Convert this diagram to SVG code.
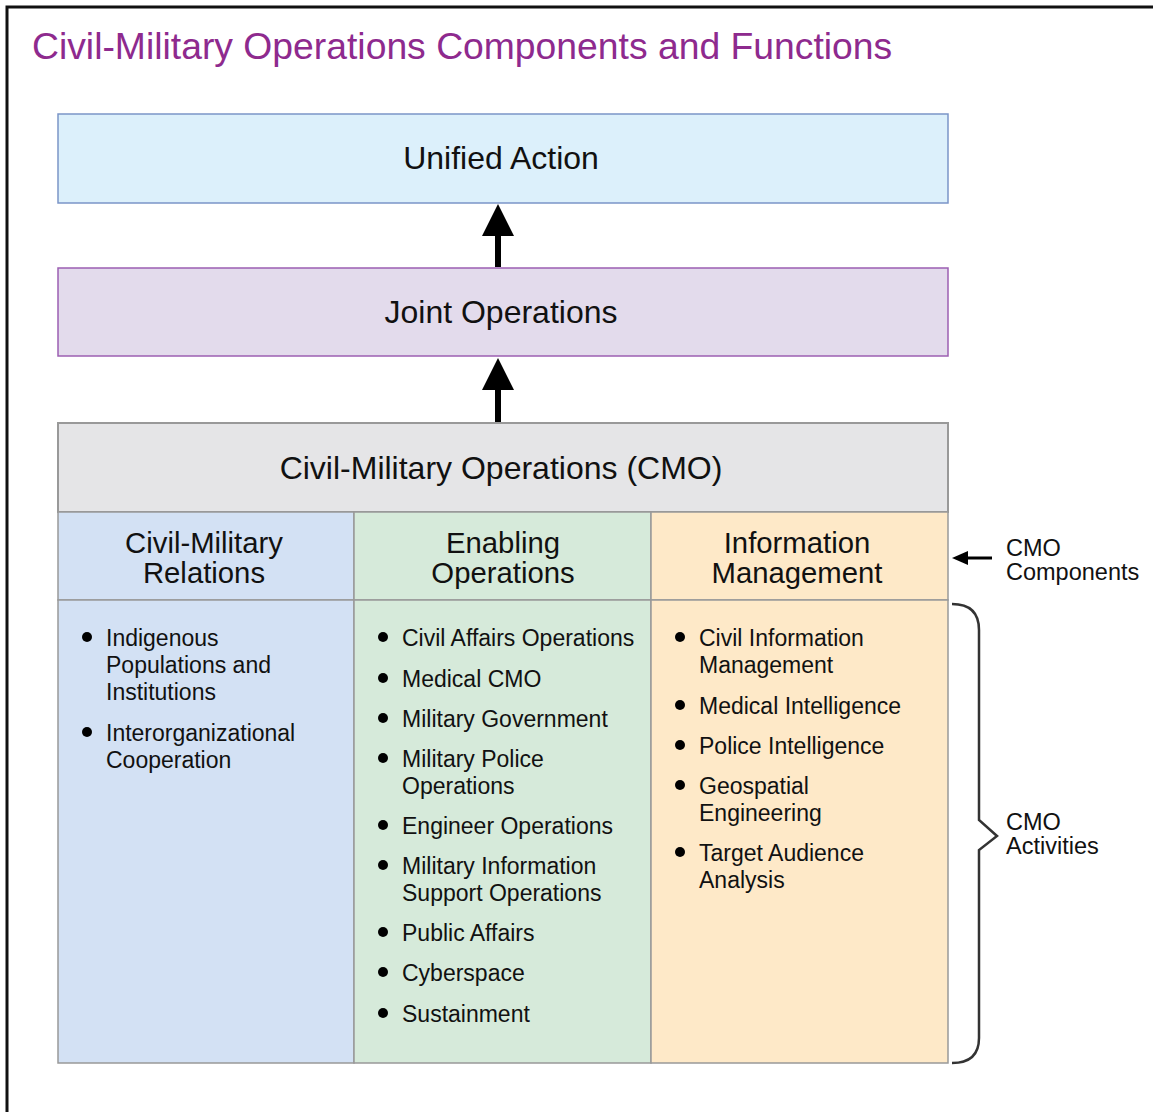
<svg xmlns="http://www.w3.org/2000/svg" width="1153" height="1112" viewBox="0 0 1153 1112">
<style>
text{font-family:"Liberation Sans",Arial,sans-serif;fill:#111}
.title{font-size:37.3px;fill:#8e2a8e}
.big{font-size:32px;text-anchor:middle}
.hdr{font-size:29.3px;text-anchor:middle}
.item{font-size:23px}
.lbl{font-size:23.5px}
.cell{stroke:#999;stroke-width:1.5}
</style>
<rect x="0" y="0" width="1153" height="1112" fill="#fff"/>
<path d="M7,1112 V7 H1153" fill="none" stroke="#111" stroke-width="3"/>
<text class="title" x="32" y="59">Civil-Military Operations Components and Functions</text>

<g id="unified-action">
<rect x="58" y="114" width="890" height="89" fill="#dcf0fb" stroke="#7b95c8" stroke-width="1.5"/>
<text class="big" x="501" y="169">Unified Action</text>
</g>
<g id="joint-operations">
<rect x="58" y="268" width="890" height="88" fill="#e3dbec" stroke="#9c5fb2" stroke-width="1.5"/>
<text class="big" x="501" y="323">Joint Operations</text>
</g>
<g id="cmo">
<rect x="58" y="423" width="890" height="89" fill="#e5e5e7" stroke="#999" stroke-width="2"/>
<text class="big" x="501" y="479">Civil-Military Operations (CMO)</text>
</g>

<g id="civil-military-relations">
<rect class="cell" x="58" y="512" width="296" height="88" fill="#d3e1f4"/>
<rect class="cell" x="58" y="600" width="296" height="463" fill="#d3e1f4"/>
<text class="hdr" x="204" y="553">Civil-Military</text>
<text class="hdr" x="204" y="583">Relations</text>
<circle cx="87" cy="637" r="5" fill="#000"/>
<text class="item" x="106" y="646">Indigenous</text>
<text class="item" x="106" y="673">Populations and</text>
<text class="item" x="106" y="700">Institutions</text>
<circle cx="87" cy="732" r="5" fill="#000"/>
<text class="item" x="106" y="741">Interorganizational</text>
<text class="item" x="106" y="768">Cooperation</text>
</g>

<g id="enabling-operations">
<rect class="cell" x="354" y="512" width="297" height="88" fill="#d6eada"/>
<rect class="cell" x="354" y="600" width="297" height="463" fill="#d6eada"/>
<text class="hdr" x="503" y="553">Enabling</text>
<text class="hdr" x="503" y="583">Operations</text>
<g fill="#000">
<circle cx="383" cy="637" r="5"/>
<circle cx="383" cy="678" r="5"/>
<circle cx="383" cy="718" r="5"/>
<circle cx="383" cy="758" r="5"/>
<circle cx="383" cy="825" r="5"/>
<circle cx="383" cy="865" r="5"/>
<circle cx="383" cy="932" r="5"/>
<circle cx="383" cy="972" r="5"/>
<circle cx="383" cy="1013" r="5"/>
</g>
<text class="item" x="402" y="646">Civil Affairs Operations</text>
<text class="item" x="402" y="687">Medical CMO</text>
<text class="item" x="402" y="727">Military Government</text>
<text class="item" x="402" y="767">Military Police</text>
<text class="item" x="402" y="794">Operations</text>
<text class="item" x="402" y="834">Engineer Operations</text>
<text class="item" x="402" y="874">Military Information</text>
<text class="item" x="402" y="901">Support Operations</text>
<text class="item" x="402" y="941">Public Affairs</text>
<text class="item" x="402" y="981">Cyberspace</text>
<text class="item" x="402" y="1022">Sustainment</text>
</g>

<g id="information-management">
<rect class="cell" x="651" y="512" width="297" height="88" fill="#fee9c8"/>
<rect class="cell" x="651" y="600" width="297" height="463" fill="#fee9c8"/>
<text class="hdr" x="797" y="553">Information</text>
<text class="hdr" x="797" y="583">Management</text>
<g fill="#000">
<circle cx="680" cy="637" r="5"/>
<circle cx="680" cy="705" r="5"/>
<circle cx="680" cy="745" r="5"/>
<circle cx="680" cy="785" r="5"/>
<circle cx="680" cy="852" r="5"/>
</g>
<text class="item" x="699" y="646">Civil Information</text>
<text class="item" x="699" y="673">Management</text>
<text class="item" x="699" y="714">Medical Intelligence</text>
<text class="item" x="699" y="754">Police Intelligence</text>
<text class="item" x="699" y="794">Geospatial</text>
<text class="item" x="699" y="821">Engineering</text>
<text class="item" x="699" y="861">Target Audience</text>
<text class="item" x="699" y="888">Analysis</text>
</g>

<g id="cmo-components-label">
<text class="lbl" x="1006" y="556">CMO</text>
<text class="lbl" x="1006" y="580">Components</text>
</g>
<g id="cmo-activities-label">
<text class="lbl" x="1006" y="830">CMO</text>
<text class="lbl" x="1006" y="854">Activities</text>
</g>

<g id="connectors">
<path d="M498,267 V235" stroke="#000" stroke-width="6" fill="none"/>
<path d="M482,236 L498,204 L514,236 z" fill="#000"/>
<path d="M498,422 V389" stroke="#000" stroke-width="6" fill="none"/>
<path d="M482,390 L498,358 L514,390 z" fill="#000"/>
<path d="M992,558 H966" stroke="#000" stroke-width="3" fill="none"/>
<path d="M952,558 L968,551 L968,565 z" fill="#000"/>
<path d="M952,604 Q979,604 979,630 V820 L997,836 L979,850 V1038 Q979,1063 952,1063" fill="none" stroke="#333" stroke-width="2.5"/>
</g>
</svg>
